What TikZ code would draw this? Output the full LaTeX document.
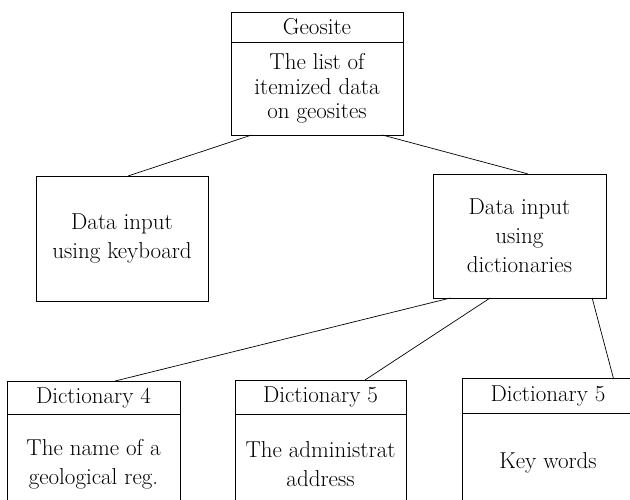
\documentclass[tikz,border=0pt]{standalone}
\usetikzlibrary{positioning,calc}

\begin{document}
\begin{tikzpicture}[x=1pt, y=-1pt,
    box/.style={draw, line width=0.9pt, outer sep=0pt, inner sep=0pt, align=center,
        font=\fontsize{23}{29}\selectfont},
    link/.style={draw, line width=0.7pt}]
        % Page size of the scanned figure
        \clip (0,0) rectangle (630,499);

        % Top box with its header
        \node[box, minimum width=172pt, minimum height=30pt] (geoTitle) at (317,27) {Geosite};
        \node[box, minimum width=172pt, minimum height=93pt, below=0pt of geoTitle,
            font=\fontsize{23}{24.5}\selectfont] (geoBody) {The list of\\itemized data\\on geosites};

        % Middle row
        \node[box, minimum width=172pt, minimum height=125pt] (keyboard) at (122,238.5) {Data input\\using keyboard};
        \node[box, minimum width=173pt, minimum height=124pt] (dicts) at (519.5,236) {Data input\\using\\dictionaries};

        % Bottom row, cut by the page edge
        \node[box, minimum width=173pt, minimum height=33pt] (dictA) at (93.5,397.5) {Dictionary 4};
        \node[box, minimum width=173pt, minimum height=100pt, below=0pt of dictA] (dictAbody) {The name of a\\geological reg.};
        \node[box, minimum width=171pt, minimum height=34pt] (dictB) at (320.5,397) {Dictionary 5};
        \node[box, minimum width=171pt, minimum height=100pt, below=0pt of dictB] (dictBbody) {The administrat\\address};
        \node[box, minimum width=172pt, minimum height=35pt] (dictC) at (548,395.5) {Dictionary 5};
        \node[box, minimum width=172pt, minimum height=100pt, below=0pt of dictC] (dictCbody) {Key words};

        % Connectors
        \draw[link] ($(geoBody.south west)!0.12!(geoBody.south east)$) -- ($(keyboard.north west)!0.535!(keyboard.north east)$);
        \draw[link] ($(geoBody.south west)!0.88!(geoBody.south east)$) -- ($(dicts.north west)!0.55!(dicts.north east)$);
        \draw[link] ($(dicts.south west)!0.1!(dicts.south east)$) -- ($(dictA.north west)!0.625!(dictA.north east)$);
        \draw[link] ($(dicts.south west)!0.33!(dicts.south east)$) -- ($(dictB.north west)!0.76!(dictB.north east)$);
        \draw[link] ($(dicts.south west)!0.92!(dicts.south east)$) -- ($(dictC.north west)!0.88!(dictC.north east)$);
    \end{tikzpicture}
\end{document}
